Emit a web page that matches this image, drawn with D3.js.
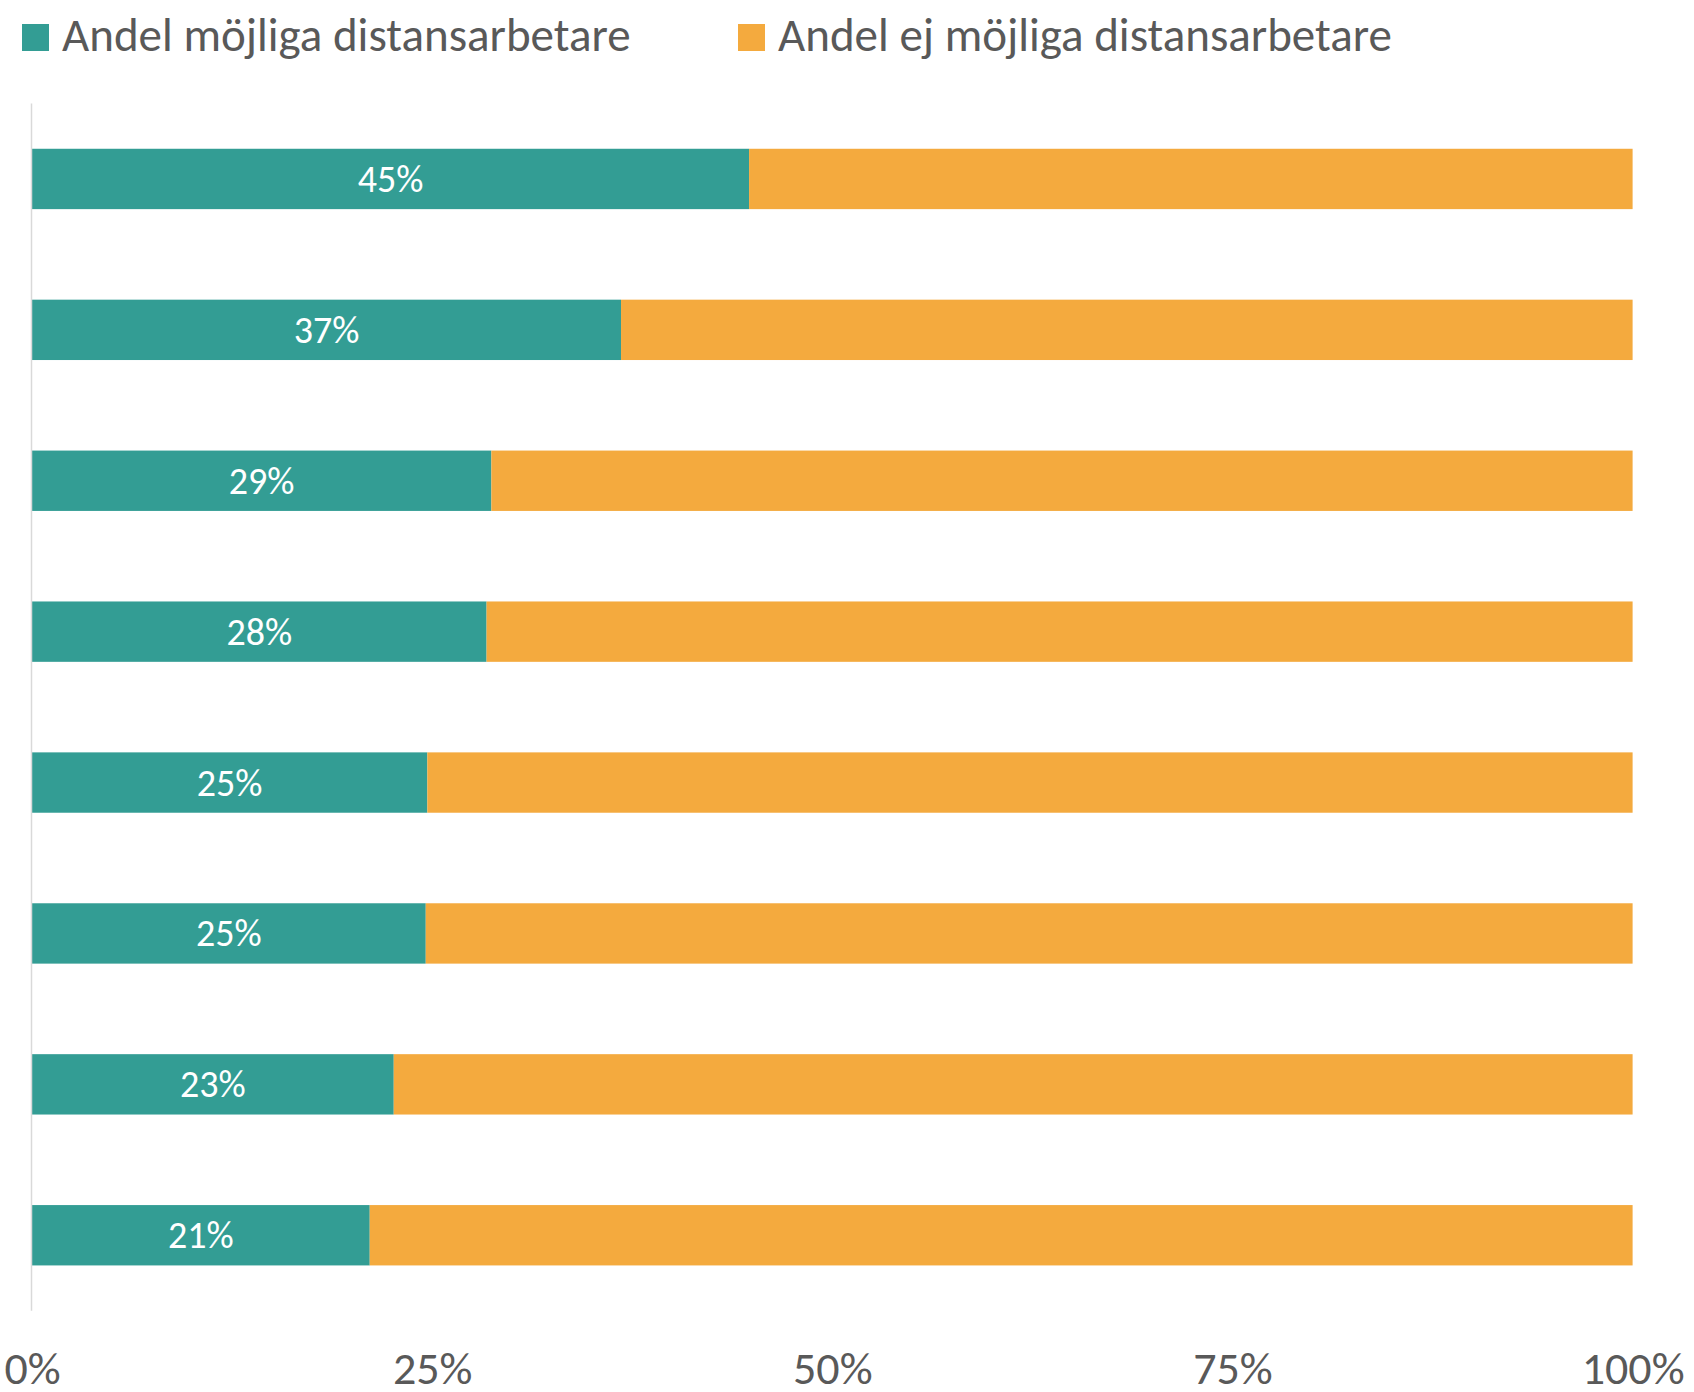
<!DOCTYPE html>
<html>
<head>
<meta charset="utf-8">
<script src="https://cdn.jsdelivr.net/npm/d3@7"></script>
<style>
  body { margin: 0; background: #fff; }
  svg text { font-family: "Calibri Light", Carlito, Lato, "Open Sans", sans-serif; font-weight: 300; }
</style>
</head>
<body>
<svg id="chart" width="1694" height="1392"></svg>
<script>
// rows top to bottom (category names are not shown in the chart)
const categories = ["Rad 1", "Rad 2", "Rad 3", "Rad 4", "Rad 5", "Rad 6", "Rad 7", "Rad 8"]
const mojliga = [0.448, 0.368, 0.287, 0.284, 0.247, 0.246, 0.226, 0.211]
const ejMojliga = mojliga.map(v => 1 - v)
const seriesNames = ["Andel möjliga distansarbetare", "Andel ej möjliga distansarbetare"]
const seriesColors = ["#339d94", "#f4aa3e"]
const xTicks = [0, 0.25, 0.5, 0.75, 1]

const svg = d3.select("#chart")

var x = d3.scaleLinear()
    .domain([0, 1])
    .range([32, 1632.6])

var y = d3.scaleBand()
    .domain(categories)
    .range([103.5, 1310.7])
    .paddingInner(0.6)
    .paddingOuter(0.3)

const rows = categories.map((c, i) => ({cat: c, a: mojliga[i], b: ejMojliga[i]}))
const stack = d3.stack().keys(["a", "b"])(rows)

svg.append("g")
  .selectAll("g")
  .data(stack)
  .join("g")
    .attr("fill", (d, i) => seriesColors[i])
  .selectAll("rect")
  .data(d => d)
  .join("rect")
    .attr("x", d => x(d[0]))
    .attr("y", d => y(d.data.cat))
    .attr("width", d => x(d[1]) - x(d[0]))
    .attr("height", y.bandwidth())

// data labels in the teal part
svg.append("g")
  .selectAll("text")
  .data(rows)
  .join("text")
    .attr("x", d => (x(0) + x(d.a)) / 2)
    .attr("y", d => y(d.cat) + y.bandwidth() / 2 + 13)
    .attr("text-anchor", "middle")
    .attr("fill", "#fff")
    .attr("font-size", 38)
    .text(d => d3.format(".0%")(d.a))

// vertical axis line
svg.append("line")
    .attr("x1", 31.5).attr("x2", 31.5)
    .attr("y1", y.range()[0]).attr("y2", y.range()[1])
    .attr("stroke", "#d9d9d9")
    .attr("stroke-width", 1.5)

// x axis, labels only
const xAxis = svg.append("g")
    .attr("transform", "translate(0,1384)")
    .call(d3.axisBottom(x).tickValues(xTicks).tickFormat(d3.format(".0%")).tickSize(0).tickPadding(0))
xAxis.select(".domain").remove()
xAxis.selectAll("text")
    .attr("dy", 0)
    .attr("font-size", 46)
    .attr("fill", "#595959")
    .attr("font-family", null)

// legend
const legendX = [22, 738]
const legend = svg.append("g")
  .selectAll("g")
  .data(seriesNames)
  .join("g")
    .attr("transform", (d, i) => `translate(${legendX[i]},0)`)
legend.append("rect")
    .attr("x", 0).attr("y", 24)
    .attr("width", 27).attr("height", 27)
    .attr("fill", (d, i) => seriesColors[i])
legend.append("text")
    .attr("x", 40).attr("y", 51)
    .attr("font-size", 47)
    .attr("fill", "#595959")
    .text(d => d)
</script>
</body>
</html>
